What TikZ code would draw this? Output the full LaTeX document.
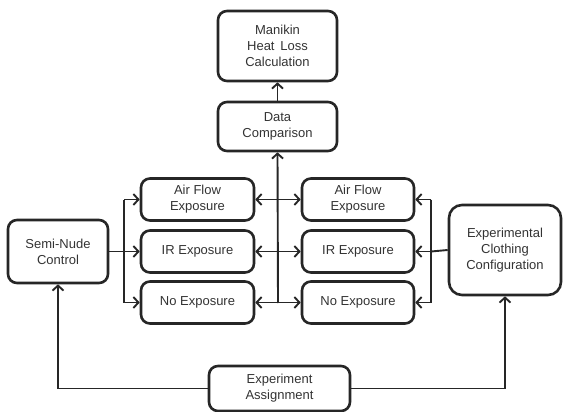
\documentclass[tikz,border=0pt]{standalone}
\usepackage{fontspec}
\setmainfont{Liberation Sans}
\usetikzlibrary{arrows.meta}
\begin{document}
\begin{tikzpicture}[x=1pt,y=-1pt,
  box/.style={draw=black!85, line width=2.6pt, rounded corners=9pt, align=center,
    inner sep=0pt, font=\fontsize{13}{16}\selectfont, text=black!80},
  conn/.style={line width=1.9pt, draw=black!85},
  arr/.style={conn, -{Straight Barb[length=5pt,width=11pt,line width=1.9pt]}},
  darr/.style={conn, {Straight Barb[length=5pt,width=11pt,line width=1.9pt]}-{Straight Barb[length=5pt,width=11pt,line width=1.9pt]}}]
\useasboundingbox (0,0) rectangle (563,412);
\node[box, minimum width=119pt, minimum height=70pt] (man) at (277.5,46) {Manikin\\Heat\, Loss\\Calculation};
\node[box, minimum width=119pt, minimum height=49pt] (data) at (277.5,126.5) {Data\\Comparison};
\node[box, minimum width=113pt, minimum height=42pt] (la) at (197.5,199.5) {Air Flow\\Exposure};
\node[box, minimum width=113pt, minimum height=42pt] (li) at (197.5,251.5) {IR Exposure};
\node[box, minimum width=113pt, minimum height=42pt] (ln) at (197.5,302.5) {No Exposure};
\node[box, minimum width=112pt, minimum height=42pt] (ra) at (358,199.5) {Air Flow\\Exposure};
\node[box, minimum width=112pt, minimum height=42pt] (ri) at (358,251.5) {IR Exposure};
\node[box, minimum width=112pt, minimum height=42pt] (rn) at (358,302.5) {No Exposure};
\node[box, minimum width=100pt, minimum height=63pt] (semi) at (58,251.5) {Semi-Nude\\Control};
\node[box, minimum width=112pt, minimum height=90pt, rounded corners=13pt] (exp) at (505,250) {Experimental\\Clothing\\Configuration};
\node[box, minimum width=141pt, minimum height=45pt] (assign) at (279.5,388.5) {Experiment\\Assignment};
\coordinate (cbot) at (278,303);
\coordinate (lt) at (124,199.5);
\coordinate (lm) at (124,251.5);
\coordinate (lb) at (124,302.5);
\coordinate (rt) at (431,199.5);
\coordinate (rm) at (431,251.5);
\coordinate (rb) at (431,302.5);
\draw[arr] (data.north) -- (man.south);
\draw[arr] (cbot) -- (data.south);
\draw[darr] (la.east) -- (ra.west);
\draw[darr] (li.east) -- (ri.west);
\draw[darr] (ln.east) -- (rn.west);
\draw[conn] (semi.east) -- (lm);
\draw[conn] (lt) -- (lb);
\draw[arr] (lt) -- (la.west);
\draw[arr] (lm) -- (li.west);
\draw[arr] (lb) -- (ln.west);
\draw[conn] (exp.west) -- (rm);
\draw[conn] (rt) -- (rb);
\draw[arr] (rt) -- (ra.east);
\draw[arr] (rm) -- (ri.east);
\draw[arr] (rb) -- (rn.east);
\draw[arr] (assign.west) -| (semi.south);
\draw[arr] (assign.east) -| (exp.south);
\end{tikzpicture}
\end{document}
